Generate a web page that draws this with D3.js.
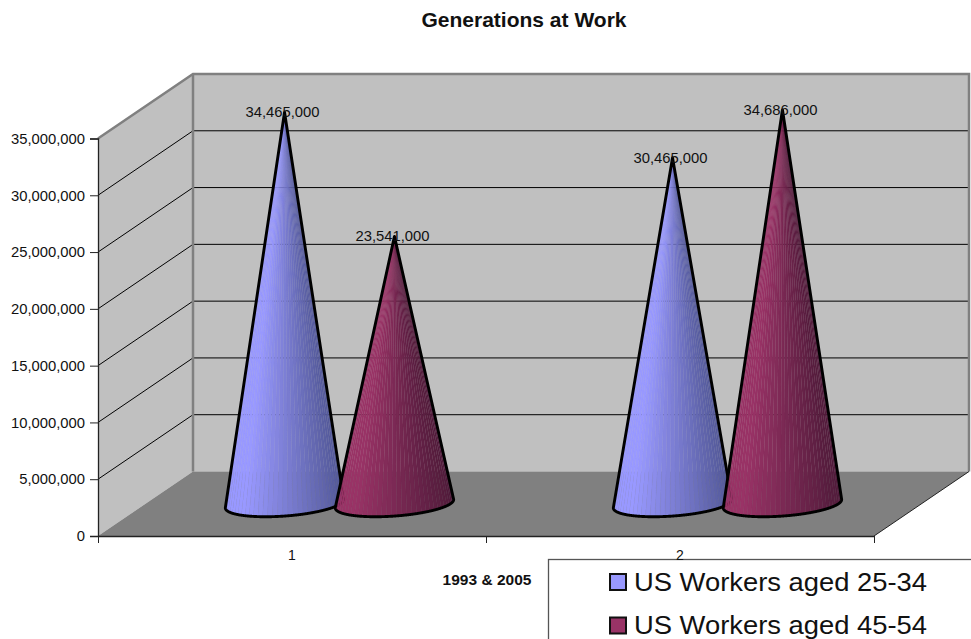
<!DOCTYPE html>
<html><head><meta charset="utf-8">
<script src="https://cdn.jsdelivr.net/npm/d3@7"></script>
<style>html,body{margin:0;padding:0;background:#fff;overflow:hidden}svg{display:block}text{font-family:"Liberation Sans",Arial,sans-serif;fill:#111}</style>
</head><body><svg id="c" width="971" height="639"></svg>
<script>
const categories = ["1", "2"];
const seriesNames = ["US Workers aged 25-34", "US Workers aged 45-54"];
const workers2534 = [34465000, 30465000];
const workers4554 = [23541000, 34686000];
const yTicks = [0, 5000000, 10000000, 15000000, 20000000, 25000000, 30000000, 35000000];
const seriesFill = ["#9999ff", "#993366"];
const seriesDark = ["#565b9c", "#531c3c"];

const svg = d3.select("#c");
const front = {l: 98, r: 874, b: 536, t: 138.5};
const depth = {x: 95, y: -64.5};
const y = d3.scaleLinear().domain([0, 35000000]).range([front.b, front.t]);
const x0 = d3.scaleBand().domain(categories).range([front.l, front.r]);
const x1 = d3.scaleBand().domain(seriesNames).range([0, x0.bandwidth()]).paddingInner(0).paddingOuter(0.765);

const pts = a => a.map(p => p.join(",")).join(" ");
const bx = depth.x, by = depth.y;
// walls
svg.append("polygon").attr("points", pts([[front.l, y(35000000)], [front.l + bx, y(35000000) + by], [front.l + bx, front.b + by], [front.l, front.b]])).attr("fill", "#c0c0c0");
svg.append("polygon").attr("points", pts([[front.l + bx, y(35000000) + by], [front.r + bx, y(35000000) + by], [front.r + bx, front.b + by], [front.l + bx, front.b + by]])).attr("fill", "#c0c0c0");
// gridlines
yTicks.slice(1, -1).forEach(v => {
  svg.append("polyline").attr("points", pts([[front.l, y(v)], [front.l + bx, y(v) + by], [front.r + bx, y(v) + by]]))
    .attr("fill", "none").attr("stroke", "#000").attr("stroke-width", 1);
});
// floor
svg.append("polygon").attr("points", pts([[front.l, front.b], [front.l + bx, front.b + by], [front.r + bx, front.b + by], [front.r, front.b]])).attr("fill", "#808080");
// wall frame
svg.append("polyline").attr("points", pts([[front.l, y(35000000)], [front.l + bx, y(35000000) + by], [front.r + bx, y(35000000) + by], [front.r + bx, front.b + by]]))
  .attr("fill", "none").attr("stroke", "#808080").attr("stroke-width", 2.5);
svg.append("line").attr("x1", front.l + bx).attr("x2", front.l + bx).attr("y1", y(35000000) + by).attr("y2", front.b + by).attr("stroke", "#808080").attr("stroke-width", 2.5);
svg.append("line").attr("x1", front.r).attr("y1", front.b).attr("x2", front.r + bx).attr("y2", front.b + by).attr("stroke", "#222").attr("stroke-width", 1);

// cones
const mid = {x: bx / 2, y: by / 2};
function cone(cat, name, val, si) {
  const cx = x0(cat) + x1(name) + x1.bandwidth() / 2 + mid.x;
  const cy = y(0) + mid.y;
  const rx = x1.bandwidth() * 0.51, kx = 19, ky = -13;
  const apex = [cx, y(val) + mid.y];
  const ell = d3.range(0, 720).map(i => {
    const t = i / 720 * 2 * Math.PI;
    return [cx + rx * Math.cos(t) + kx * Math.sin(t), cy + ky * Math.sin(t)];
  });
  const hull = d3.polygonHull(ell.concat([apex]));
  const ai = hull.findIndex(p => p[0] === apex[0] && p[1] === apex[1]);
  const rim = hull.slice(ai + 1).concat(hull.slice(0, ai));
  if (rim[0][0] > rim[rim.length - 1][0]) rim.reverse();
  const shade = d3.scaleLinear().domain([-1, -0.72, 1]).range([seriesFill[si], seriesFill[si], seriesDark[si]]);
  const g = svg.append("g");
  const step = 10;
  for (let i = 0; i + step < rim.length; i += step) {
    const a = rim[i], b = rim[Math.min(i + step, rim.length - 1)];
    const col = shade(((a[0] + b[0]) / 2 - cx) / rx);
    g.append("polygon").attr("points", pts([apex, a, b])).attr("fill", col).attr("stroke", col).attr("stroke-width", 0.2);
  }
  const last = rim[rim.length - 1], prev = rim[Math.floor((rim.length - 1) / step) * step];
  g.append("polygon").attr("points", pts([apex, prev, last])).attr("fill", shade(1));
  g.append("polygon").attr("points", pts(hull)).attr("fill", "none").attr("stroke", "#000").attr("stroke-width", 2.9).attr("stroke-linejoin", "round");
  return {cx, top: apex[1]};
}
const labels = [];
categories.forEach((c, i) => {
  [workers2534, workers4554].forEach((s, si) => {
    const r = cone(c, seriesNames[si], s[i], si);
    labels.push({x: r.cx, y: r.top, v: s[i]});
  });
});
labels.forEach(l => svg.append("text").attr("x", l.x - 2).attr("y", l.y + 5).attr("text-anchor", "middle").attr("font-size", 14.8).text(d3.format(",")(l.v)));

// axes
const yAxis = d3.axisLeft(y).tickValues(yTicks).tickFormat(d3.format(",")).tickSize(8).tickPadding(5);
const gy = svg.append("g").attr("transform", `translate(${front.l},0)`).call(yAxis);
gy.selectAll("text").attr("font-size", 14.8).style("font-family", '"Liberation Sans"').attr("fill", "#111");
gy.select(".domain").attr("stroke", "#222").attr("stroke-width", 1.3);
gy.selectAll(".tick line").attr("stroke", "#222");

const xTickScale = d3.scaleLinear().domain([0, categories.length]).range([front.l, front.r]);
const xAxis = d3.axisBottom(xTickScale).tickValues([0, 1, 2]).tickFormat("").tickSize(7).tickSizeOuter(0);
const gx = svg.append("g").attr("transform", `translate(0,${front.b})`).call(xAxis);
gx.select(".domain").attr("stroke", "#222").attr("stroke-width", 1.6);
gx.selectAll(".tick line").attr("stroke", "#222");

// titles
svg.append("text").attr("x", 524).attr("y", 27).attr("text-anchor", "middle").attr("font-size", 21).attr("font-weight", "bold").text("Generations at Work");
svg.append("text").attr("x", 487).attr("y", 585).attr("text-anchor", "middle").attr("font-size", 15.5).attr("font-weight", "bold").text("1993 & 2005");

// legend
const legend = {x: 548.5, y: 559.5};
svg.append("rect").attr("x", legend.x).attr("y", legend.y).attr("width", 500).attr("height", 200).attr("fill", "#fff").attr("stroke", "#555").attr("stroke-width", 1.3);
const ly = d3.scalePoint().domain(seriesNames).range([582, 625.5]);
seriesNames.forEach((n, i) => {
  svg.append("rect").attr("x", 610).attr("y", ly(n) - 8).attr("width", 16).attr("height", 16).attr("fill", seriesFill[i]).attr("stroke", "#111").attr("stroke-width", 2);
  svg.append("text").attr("x", 634).attr("y", ly(n) + 8.5).attr("font-size", 25).attr("textLength", 293).attr("lengthAdjust", "spacingAndGlyphs").text(n);
});
// category labels sit on top of the legend edge
categories.forEach(c => svg.append("text").attr("x", x0(c) + x0.bandwidth() / 2).attr("y", 560).attr("text-anchor", "middle").attr("font-size", 14).text(c));
</script></body></html>
